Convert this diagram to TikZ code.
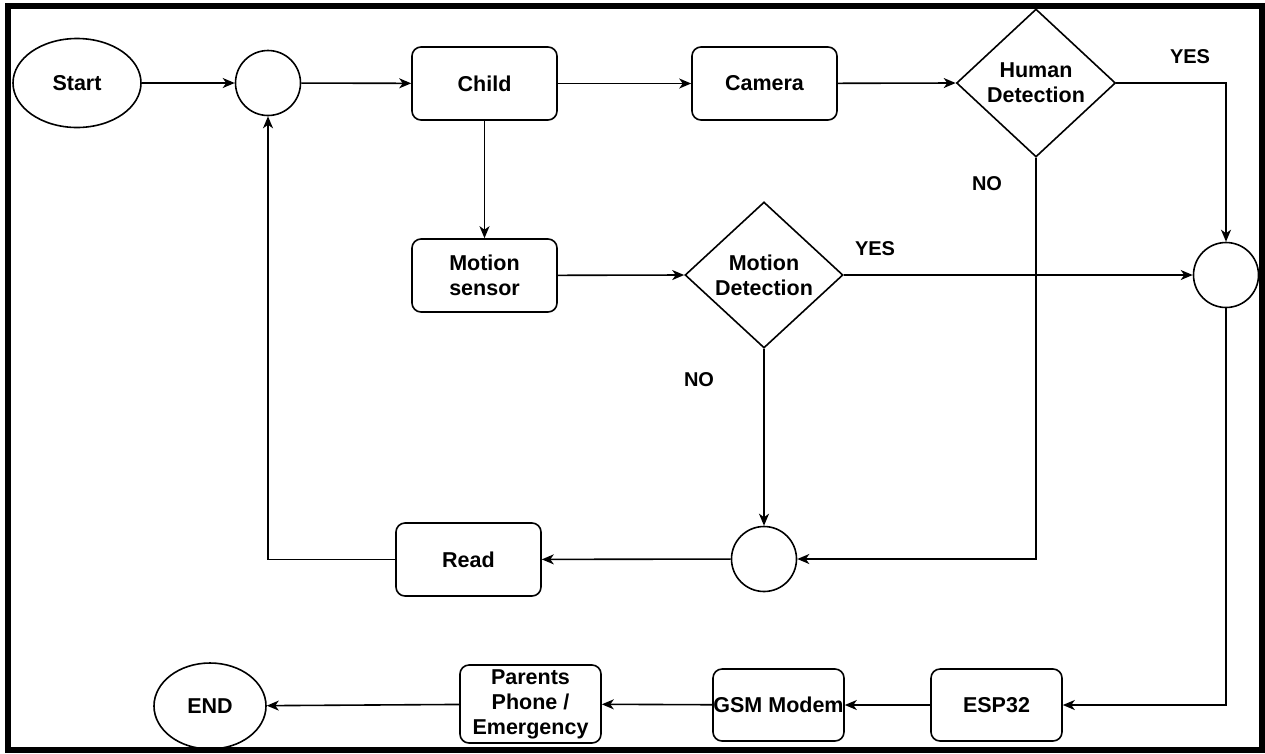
\documentclass[tikz,border=0pt]{standalone}
\usepackage{fontspec}
\setmainfont{Liberation Sans}
\usetikzlibrary{shapes.geometric,arrows.meta}
\begin{document}
\begin{tikzpicture}[x=1pt,y=-1pt,
  every node/.style={font=\fontsize{21.5}{25}\selectfont\bfseries, align=center},
  flow/.style={line width=1.6pt, -{Stealth[length=12pt,width=10pt,inset=3.5pt]}},
  procbox/.style={draw, line width=1.6pt, rounded corners=9pt, inner sep=0pt},
  terminal/.style={draw, line width=1.6pt, ellipse, inner sep=0pt},
  junction/.style={draw, line width=1.6pt, circle, inner sep=0pt, minimum size=65pt},
  decision/.style={draw, line width=1.6pt, diamond, aspect=1.08, inner sep=0pt},
  tag/.style={font=\fontsize{20}{24}\selectfont\bfseries}
]
\useasboundingbox (0,0) rectangle (1265,753);
\fill[white] (0,0) rectangle (1265,753);
\draw[line width=6pt] (8,6) rectangle (1262,750);

% top row
\node[terminal, minimum width=128pt, minimum height=89pt] (start) at (77,83) {Start};
\node[junction] (j1) at (268,83) {};
\node[procbox, minimum width=145pt, minimum height=73pt] (child) at (484.5,83.5) {Child};
\node[procbox, minimum width=145pt, minimum height=73pt] (camera) at (764.5,83.5) {Camera};
\node[decision, minimum width=159pt, minimum height=148pt] (human) at (1036,83) {Human\\Detection};

% middle row
\node[procbox, minimum width=145pt, minimum height=73pt] (msensor) at (484.5,275.5) {Motion\\sensor};
\node[decision, minimum width=158pt, minimum height=146pt] (motion) at (764,275) {Motion\\Detection};
\node[junction] (j2) at (1226,275) {};

% loop back
\node[procbox, minimum width=145pt, minimum height=73pt] (read) at (468.5,559.5) {Read};
\node[junction] (j3) at (764,559) {};

% alert chain
\node[procbox, minimum width=131pt, minimum height=72pt] (esp) at (996.5,705) {ESP32};
\node[procbox, minimum width=131pt, minimum height=72pt] (gsm) at (778.5,705) {GSM Modem};
\node[procbox, minimum width=141pt, minimum height=78pt] (parents) at (530.5,704) {Parents\\Phone /\\Emergency};
\node[terminal, minimum width=112pt, minimum height=86pt] (end) at (210,706) {END};

% labels
\node[tag] (yes1) at (1190,57) {YES};
\node[tag] (no1) at (987,184) {NO};
\node[tag] (yes2) at (875,249) {YES};
\node[tag] (no2) at (699,380) {NO};

% connectors
\draw[flow] (start) -- (j1);
\draw[flow] (j1) -- (child);
\draw[flow] (child) -- (camera);
\draw[flow] (camera) -- (human.west);
\draw[flow] (human.east) -| (j2.north);
\draw[flow] (child) -- (msensor);
\draw[flow] (msensor) -- (motion.west);
\draw[flow] (motion.east) -- (j2.west);
\draw[flow] (motion.south) -- (j3.north);
\draw[flow] (human.south) |- (j3.east);
\draw[flow] (j3) -- (read);
\draw[flow] (read.west) -| (j1.south);
\draw[flow] (j2.south) |- (esp.east);
\draw[flow] (esp) -- (gsm);
\draw[flow] (gsm) -- (parents);
\draw[flow] (parents) -- (end);
\end{tikzpicture}
\end{document}
